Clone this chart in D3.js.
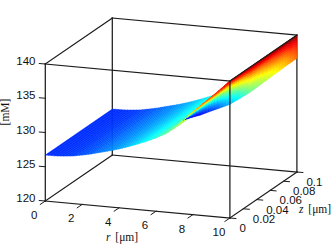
<!DOCTYPE html>
<html><head><meta charset="utf-8">
<script src="https://cdn.jsdelivr.net/npm/d3@7"></script>
<style>html,body{margin:0;padding:0;background:#fff}svg{display:block}</style>
</head><body><svg id="c" width="332" height="245"></svg>
<script>
// ---- data ----
const rTicks = [0,2,4,6,8,10];
const zTicks = [0,0.02,0.04,0.06,0.08,0.1];
const zTickLabels = ["0","0.02","0.04","0.06","0.08","0.1"];
const vTicks = [120,125,130,135,140];
// upper sheet: concentration profile along r, swept from z=0 to z=0.1
const profileR = [0,0.5,1,1.5,2,2.5,3,3.5,4,4.5,5,5.5,6,6.5,7,7.5,8,8.5,9,9.5,10];
const profileV = [126.7,126.72,126.8,126.95,127.2,127.5,127.85,128.2,128.6,129.05,129.55,130.1,130.7,131.4,132.4,133.7,135,136.25,137.45,138.7,140];
const sweepZ = [0,0.1];
// lower sheet: bottom edge at z=0.1
const lowerR = [3.84,4.76,5.57,6.32,6.93,7.46,8.54,9.35,10];
const lowerV = [126.1,127,128,128.9,130,131,133.4,135.2,136.6];
// lower sheet: top edge (z=0 rim, then r=10 rim)
const upperR = [7.48,8.4,9.2,10,10,10,10,10,10];
const upperZ = [0,0,0,0,0.0152,0.031,0.06,0.083,0.1];
const upperV = [133.68,136,137.9,140,140,140,140,140,140];
// lower sheet: colour data at five levels between the two edges
const shade0 = [125.6,125.8,127,128.7,130.1,131.5,133.2,134.7,136.3];
const shade1 = [126.2,126.6,127.9,129.6,131,132.4,134,135.3,136.8];
const shade2 = [127,127.9,129.2,131.3,132.6,134,135.5,136.3,137.4];
const shade3 = [129.9,130.4,131.5,133.8,135,136.2,137,137.8,138.4];
const shade4 = [133.8,136.9,137.7,138.9,139.2,139.5,139.7,139.8,139.8];
const climLow = 124, climHigh = 140;

// ---- scales: a fixed oblique view of the box ----
const rX = d3.scaleLinear().domain([0,10]).range([0,184.6]);
const rY = d3.scaleLinear().domain([0,10]).range([0,17]);
const zX = d3.scaleLinear().domain([0,0.1]).range([0,67]);
const zY = d3.scaleLinear().domain([0,0.1]).range([0,-46]);
const vY = d3.scaleLinear().domain([120,140]).range([0,-137]);
const ox = 45.3, oy = 201;
const P = (r,z,v)=>[ox+rX(r)+zX(z), oy+rY(r)+zY(z)+vY(v)];

const jet = d3.scaleLinear()
  .domain([0,0.125,0.375,0.625,0.875,1])
  .range(["#000080","#0000ff","#00ffff","#ffff00","#ff0000","#800000"])
  .clamp(true);
const tone = d3.scaleLinear().domain([climLow,climHigh]).range([0,1]);
const colour = c=>jet(tone(c));

const svg = d3.select("#c");
const ink = "#1c1c1c";
function seg(g,a,b,w){
  g.append("line").attr("x1",a[0]).attr("y1",a[1]).attr("x2",b[0]).attr("y2",b[1])
   .attr("stroke",ink).attr("stroke-width",w||1.25).attr("stroke-linecap","square");
}
const mix=(a,b,t)=>a+(b-a)*t;

// back edges
const back = svg.append("g");
seg(back,P(0,0.1,140),P(10,0.1,140));
seg(back,P(0,0.1,120),P(0,0.1,140));
seg(back,P(10,0.1,120),P(10,0.1,140));
seg(back,P(0,0.1,120),P(10,0.1,120));
seg(back,P(0,0,120),P(0,0.1,120));

// surface
const surf = svg.append("g");
function cell(a,b,c,d,col){
  surf.append("path")
    .attr("d","M"+[a,b,c,d].map(p=>p[0].toFixed(2)+","+p[1].toFixed(2)).join("L")+"Z")
    .attr("fill",col).attr("stroke",col).attr("stroke-width",0.45);
}
// sheet 1: profile swept in z
const N1=3;
profileR.slice(0,-1).forEach((r0,i)=>{
  const r1=profileR[i+1], v0=profileV[i], v1=profileV[i+1];
  for(let s=0;s<N1;s++){
    const a=s/N1,b=(s+1)/N1,ra=mix(r0,r1,a),rb=mix(r0,r1,b),va=mix(v0,v1,a),vb=mix(v0,v1,b);
    cell(P(ra,sweepZ[0],va),P(rb,sweepZ[0],vb),P(rb,sweepZ[1],vb),P(ra,sweepZ[1],va),colour((va+vb)/2));
  }
});
// sheet 2: between lower and upper edges
const shades=[shade0,shade1,shade2,shade3,shade4];
const N2=5;
lowerR.slice(0,-1).forEach((_,i)=>{
  const pos=(j,f)=>P(mix(lowerR[j],upperR[j],f),mix(0.1,upperZ[j],f),mix(lowerV[j],upperV[j],f));
  const at=(A,B,t)=>[mix(A[0],B[0],t),mix(A[1],B[1],t)];
  for(let s=0;s<N2;s++){
    const a=s/N2,b=(s+1)/N2;
    for(let l=0;l<4;l++) for(let q=0;q<3;q++){
      const f0=(l+q/3)/4,f1=(l+(q+1)/3)/4;
      const ca=mix(mix(shades[l][i],shades[l+1][i],(q+.5)/3),mix(shades[l][i+1],shades[l+1][i+1],(q+.5)/3),(s+.5)/N2);
      cell(at(pos(i,f0),pos(i+1,f0),a),at(pos(i,f0),pos(i+1,f0),b),at(pos(i,f1),pos(i+1,f1),b),at(pos(i,f1),pos(i+1,f1),a),colour(ca));
    }
  }
});

// front edges
const front = svg.append("g");
seg(front,P(0,0,120),P(0,0,140));
seg(front,P(0,0,140),P(0,0.1,140));
seg(front,P(0,0,140),P(10,0,140));
seg(front,P(10,0,140),P(10,0.1,140));
seg(front,P(10,0,120),P(10,0,140));
seg(front,P(0,0,120),P(10,0,120));
seg(front,P(10,0,120),P(10,0.1,120));

// ticks and labels
const sans="'Liberation Sans',Arial,sans-serif", serif="'Liberation Serif',serif";
function label(x,y,t,anchor){
  svg.append("text").attr("x",x).attr("y",y).attr("text-anchor",anchor||"middle")
    .attr("font-family",sans).attr("font-size",11.5).attr("fill","#111").text(t);
}
vTicks.forEach(v=>{
  const p=P(0,0,v);
  seg(front,p,[p[0]-6,p[1]-0.5],1);
  label(35.5,p[1]+1,String(v),"end");
});
rTicks.forEach(r=>{
  const p=P(r,0,120);
  seg(front,p,[p[0]-5,p[1]+3.4],1);
  label(p[0]-11,p[1]+18,String(r));
});
zTicks.forEach((z,i)=>{
  const p=P(10,z,120);
  seg(front,p,[p[0]+6,p[1]+0.5],1);
  label(p[0]+9.5,p[1]+14,zTickLabels[i],"start");
});
function axisTitle(x,y,sym,unit,rot){
  const t=svg.append("text").attr("font-family",serif).attr("font-size",11.5).attr("fill","#111")
    .attr("transform",`translate(${x},${y})`+(rot?` rotate(${rot})`:"")).attr("text-anchor","middle");
  if(sym) t.append("tspan").attr("font-style","italic").text(sym+" ");
  t.append("tspan").attr("dx",sym?2:0).text(unit);
}
axisTitle(122,241,"r","[μm]");
axisTitle(315,213,"z","[μm]");
axisTitle(9,112,"","[mM]",-90);
</script></body></html>
